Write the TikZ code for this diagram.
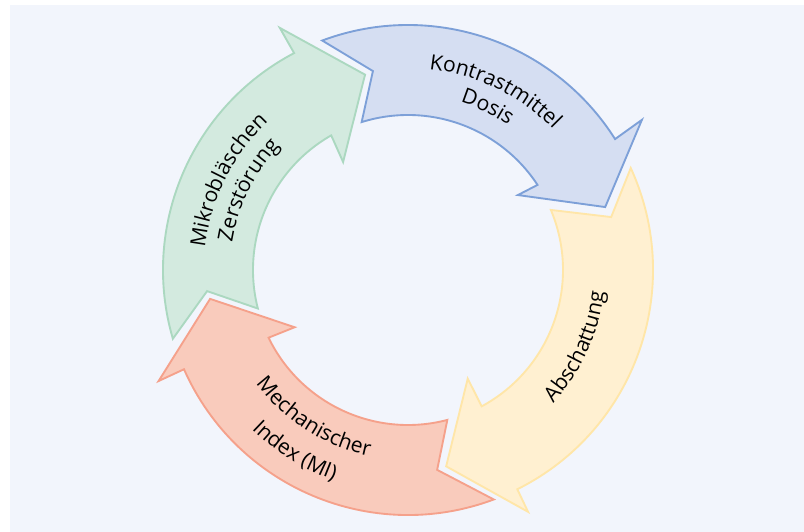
\documentclass[tikz,border=0pt]{standalone}
\usepackage{tikz}
\usepackage{xcolor}
\usepackage{fontspec}
\usetikzlibrary{decorations.text}
\newfontfamily\labelfont{Open Sans}
\newcommand{\arrowfont}{\labelfont\fontsize{18pt}{21pt}\selectfont}
\definecolor{bgblue}{HTML}{F2F5FC}
\definecolor{bluefill}{HTML}{D5DEF2}
\definecolor{bluedraw}{HTML}{7DA0D8}
\definecolor{yellowfill}{HTML}{FFF0D1}
\definecolor{yellowdraw}{HTML}{FFE6A8}
\definecolor{redfill}{HTML}{F9CBBC}
\definecolor{reddraw}{HTML}{F5A18B}
\definecolor{greenfill}{HTML}{D3EADF}
\definecolor{greendraw}{HTML}{ABD8C0}
\tikzstyle{cyclearrow} = [line width=1.6pt, line join=miter]
\tikzstyle{bluearrow} = [cyclearrow, fill=bluefill, draw=bluedraw]
\tikzstyle{yellowarrow} = [cyclearrow, fill=yellowfill, draw=yellowdraw]
\tikzstyle{redarrow} = [cyclearrow, fill=redfill, draw=reddraw]
\tikzstyle{greenarrow} = [cyclearrow, fill=greenfill, draw=greendraw]
\tikzstyle{arclabel} = [decorate, decoration={text along path, text align=center, text color=black}]

\begin{document}
\begin{tikzpicture}[x=0.03cm, y=0.03cm]
        \useasboundingbox (-408,-262) rectangle (396,270);
        \fill[white] (-408,-262) rectangle (396,270);
        \fill[bgblue] (-398,-262) rectangle (396,265);

        % Draw Arrows
        \draw[bluearrow] (110.5:245) arc[start angle=110.5, end angle=32.3, radius=245]
            -- (32.7:278) -- (17.7:207) -- (34.3:133) -- (33.3:155)
            arc[start angle=33.3, end angle=107.4, radius=155] -- (100:202) -- cycle;
        \draw[yellowarrow] (24.6:245) arc[start angle=24.6, end angle=-63.5, radius=245]
            -- (-63.6:270) -- (-79:200) -- (-61.2:124) -- (-61.6:155)
            arc[start angle=-61.6, end angle=22.8, radius=155] -- (14.6:210) -- cycle;
        \draw[redarrow] (290.5:245) arc[start angle=290.5, end angle=203.9, radius=245]
            -- (204:273) -- (188.3:200) -- (206.8:127) -- (205.9:155)
            arc[start angle=205.9, end angle=284.7, radius=155] -- (278.3:202) -- cycle;
        \draw[greenarrow] (196.3:245) arc[start angle=196.3, end angle=117.7, radius=245]
            -- (117.9:274) -- (102.4:200) -- (121:126) -- (119.7:155)
            arc[start angle=119.7, end angle=194.4, radius=155] -- (186:202) -- cycle;

        % Labels along the ring
        \path[arclabel, decoration={text={|\arrowfont|Kontrastmittel}}]
            (114:202) arc[start angle=114, end angle=14, radius=202];
        \path[arclabel, decoration={text={|\arrowfont|Dosis}}]
            (114:176) arc[start angle=114, end angle=14, radius=176];
        \path[arclabel, decoration={text={|\arrowfont|Abschattung}}]
            (-74.5:197) arc[start angle=-74.5, end angle=25.5, radius=197];
        \path[arclabel, decoration={text={|\arrowfont|Mechanischer}}]
            (187.5:190) arc[start angle=187.5, end angle=287.5, radius=190];
        \path[arclabel, decoration={text={|\arrowfont|Index (MI)}}]
            (188:223) arc[start angle=188, end angle=288, radius=223];
        \path[arclabel, decoration={text={|\arrowfont|Mikrobläschen}}]
            (203.5:204) arc[start angle=203.5, end angle=103.5, radius=204];
        \path[arclabel, decoration={text={|\arrowfont|Zerstörung}}]
            (203.5:178) arc[start angle=203.5, end angle=103.5, radius=178];

    \end{tikzpicture}
\end{document}
